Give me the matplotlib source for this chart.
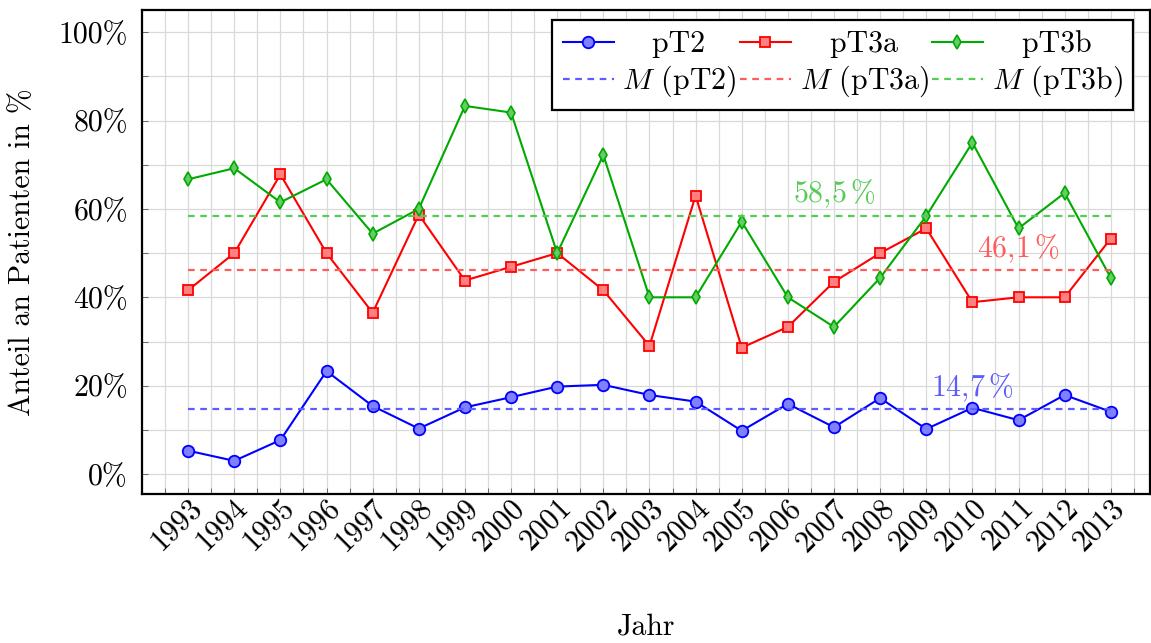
import matplotlib
matplotlib.use("Agg")
import matplotlib.pyplot as plt
import matplotlib.transforms as mtransforms
from matplotlib.ticker import MultipleLocator

plt.rcParams['font.family'] = 'serif'
plt.rcParams['font.serif'] = ['cmr10', 'DejaVu Serif']
plt.rcParams['mathtext.fontset'] = 'cm'
plt.rcParams['axes.formatter.use_mathtext'] = True
plt.rcParams['font.size'] = 21.5

years = list(range(1993, 2014))
pt2 = [5.3, 3.0, 7.7, 23.3, 15.4, 10.3, 15.1, 17.4, 19.8, 20.2,
       17.9, 16.4, 9.8, 15.9, 10.6, 17.2, 10.2, 15.0, 12.2, 17.9, 14.1]
pt3a = [41.6, 50.0, 67.8, 50.0, 36.5, 58.7, 43.8, 46.9, 50.0, 41.6,
        29.0, 63.0, 28.6, 33.3, 43.5, 50.0, 55.6, 38.9, 40.0, 40.0, 53.3]
pt3b = [66.7, 69.2, 61.5, 66.7, 54.4, 60.0, 83.3, 81.8, 50.0, 72.2,
        40.0, 40.0, 57.1, 40.0, 33.3, 44.4, 58.4, 75.0, 55.6, 63.6, 44.4]
means = [14.7, 46.1, 58.5]
mean_labels = [r'$14{,}7\,\%$', r'$46{,}1\,\%$', r'$58{,}5\,\%$']
label_years = [2010, 2011, 2007]
yticks = [0, 20, 40, 60, 80, 100]
ytick_labels = ['0%', '20%', '40%', '60%', '80%', '100%']

fig = plt.figure(figsize=(11.51, 6.43), dpi=100)
ax = fig.add_axes([142 / 1151, 1 - 494 / 643, 1008 / 1151, 484 / 643])

blue, red, green = '#0000ff', '#ff0000', '#00aa00'
lblue, lred, lgreen = '#5c5cff', '#ff5c5c', '#55cc55'

h1, = ax.plot(years, pt2, color=blue, lw=1.5, marker='o', ms=8.3,
              mfc='#8080ff', mec=blue, mew=1.3, label='   pT2')
h2, = ax.plot(years, pt3a, color=red, lw=1.5, marker='s', ms=7.8,
              mfc='#ff8080', mec=red, mew=1.3, label='   pT3a')
h3, = ax.plot(years, pt3b, color=green, lw=1.5, marker='d', ms=7.5,
              mfc='#66cc66', mec=green, mew=1.2, label='   pT3b')

mh = []
for m, c, name in zip(means, [lblue, lred, lgreen], ['pT2', 'pT3a', 'pT3b']):
    h, = ax.plot([years[0], years[-1]], [m, m], color=c, lw=1.6,
                 ls=(0, (3, 2.5)), label=r'$M$ (' + name + ')')
    mh.append(h)

for m, c, lab, yr in zip(means, [lblue, lred, lgreen], mean_labels, label_years):
    ax.text(yr, m + 1.2, lab, color=c, ha='center', va='bottom', fontsize=21.5)

ax.set_xlim(1992.0, 2013.85)
ax.set_ylim(-4.5, 105)
ax.set_xticks(years)
ax.xaxis.set_minor_locator(MultipleLocator(0.5))
ax.set_yticks(yticks)
ax.set_yticklabels(ytick_labels)
ax.yaxis.set_minor_locator(MultipleLocator(10))
ax.grid(True, which='both', color='#d9d9d9', lw=0.9)
ax.set_axisbelow(True)
ax.tick_params(which='both', direction='in', length=4, width=0.6, color='#555555')
ax.tick_params(axis='y', which='major', pad=10)
ax.tick_params(axis='x', which='major', pad=8)
for s in ax.spines.values():
    s.set_linewidth(1.6)

offset = mtransforms.ScaledTranslation(10 / 100, 0, fig.dpi_scale_trans)
for lab in ax.get_xticklabels():
    lab.set_rotation(45)
    lab.set_ha('right')
    lab.set_va('center')
    lab.set_rotation_mode('anchor')
    lab.set_transform(lab.get_transform() + offset)

leg = ax.legend([h1, mh[0], h2, mh[1], h3, mh[2]],
                [h1.get_label(), mh[0].get_label(), h2.get_label(),
                 mh[1].get_label(), h3.get_label(), mh[2].get_label()],
                ncol=3, loc='upper right', bbox_to_anchor=(0.983, 0.98),
                fancybox=False, framealpha=1, edgecolor='black',
                handlelength=1.7, handletextpad=0.3, columnspacing=0.1,
                labelspacing=0.2, borderpad=0.35, borderaxespad=0)
leg.get_frame().set_linewidth(1.6)

fig.text(646 / 1151, 1 - 627 / 643, 'Jahr', ha='center', va='center')
fig.text(22 / 1151, 1 - 252 / 643, 'Anteil an Patienten in %', rotation=90,
         ha='center', va='center')

fig.savefig('out.png', dpi=100)
